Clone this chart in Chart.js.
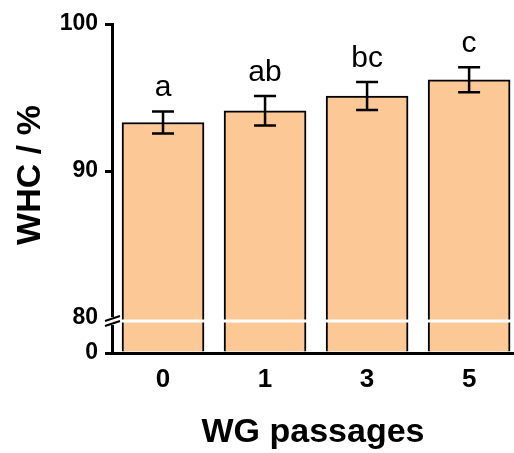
<!DOCTYPE html>
<html>
<head>
<meta charset="utf-8">
<script src="https://cdn.jsdelivr.net/npm/chart.js@4/dist/chart.umd.min.js"></script>
<style>
html, body { margin: 0; padding: 0; background: #fff; overflow: hidden; }
</style>
</head>
<body>
<canvas id="whcChart" width="514" height="453"></canvas>
<script>
// WG passages vs water holding capacity
var passages = ['0', '1', '3', '5'];
var whc = [93.3, 94.1, 95.1, 96.2];
var whcErr = [0.75, 1.0, 0.95, 0.85];
var letters = ['a', 'ab', 'bc', 'c'];
var yTickValues = [80, 90, 100];
var yZero = 77.62; // value where the "0" tick sits below the axis break

var FONT = '"Liberation Sans", Arial, sans-serif';
var barFill = 'rgb(252,200,150)';

var extras = {
	id: 'extras',
	afterDatasetsDraw: function(chart) {
		var ctx = chart.ctx;
		var xs = chart.scales.x, ys = chart.scales.y;
		var area = chart.chartArea;
		ctx.save();
		// error bars + letters
		ctx.strokeStyle = '#000';
		ctx.lineWidth = 2.5;
		ctx.fillStyle = '#000';
		ctx.font = '30px ' + FONT;
		ctx.textAlign = 'center';
		ctx.textBaseline = 'alphabetic';
		for (var i = 0; i < whc.length; i++) {
			var x = xs.getPixelForValue(i);
			var top = ys.getPixelForValue(whc[i] + whcErr[i]);
			var bot = ys.getPixelForValue(whc[i] - whcErr[i]);
			ctx.beginPath();
			ctx.moveTo(x, top); ctx.lineTo(x, bot);
			ctx.moveTo(x - 11, top); ctx.lineTo(x + 11, top);
			ctx.moveTo(x - 11, bot); ctx.lineTo(x + 11, bot);
			ctx.stroke();
			ctx.fillText(letters[i], x, top - 15);
		}
		// axis break
		var by = ys.getPixelForValue(80) + 3;
		ctx.fillStyle = '#fff';
		ctx.fillRect(area.left + 3, by - 1.5, area.right - area.left, 3);
		ctx.fillRect(area.left - 4, by - 4, 8, 8);
		ctx.strokeStyle = '#000';
		ctx.lineWidth = 2;
		ctx.beginPath();
		ctx.moveTo(area.left - 7, by + 0); ctx.lineTo(area.left + 8, by - 5);
		ctx.moveTo(area.left - 7, by + 5); ctx.lineTo(area.left + 8, by);
		ctx.stroke();
		ctx.restore();
	},
	afterDraw: function(chart) {
		var ctx = chart.ctx;
		ctx.save();
		ctx.fillStyle = '#000';
		ctx.font = 'bold 34px ' + FONT;
		ctx.textAlign = 'center';
		ctx.textBaseline = 'middle';
		ctx.translate(31, 175);
		ctx.rotate(-Math.PI / 2);
		ctx.fillText('WHC / %', 0, 0);
		ctx.restore();
	}
};

new Chart(document.getElementById('whcChart'), {
	type: 'bar',
	data: {
		datasets: [{
			label: 'WHC',
			data: whc.map(function(v, i) { return {x: i, y: v}; }),
			backgroundColor: barFill,
			borderColor: '#000',
			borderWidth: 2,
			barThickness: 82,
			base: yZero
		}]
	},
	options: {
		responsive: false,
		animation: false,
		devicePixelRatio: 1,
		layout: { padding: { top: 24, left: 0, right: 0, bottom: 0 } },
		plugins: {
			legend: { display: false },
			tooltip: { enabled: false }
		},
		scales: {
			x: {
				type: 'linear',
				min: -0.5,
				max: 3.44,
				offset: false,
				afterBuildTicks: function(s) {
					s.ticks = passages.map(function(p, i) { return {value: i}; });
				},
				afterFit: function(s) { s.height = 100; },
				ticks: {
					callback: function(v) { return passages[v]; },
					color: '#000',
					font: { family: FONT, size: 26, weight: 'bold' },
					padding: 11,
					maxRotation: 0
				},
				grid: { display: false, drawTicks: false, offset: false },
				border: { display: true, color: '#000', width: 3 },
				title: {
					display: true,
					text: 'WG passages',
					color: '#000',
					font: { family: FONT, size: 34, weight: 'bold' },
					padding: { top: 0, bottom: 0 }
				}
			},
			y: {
				min: yZero,
				max: 100,
				afterBuildTicks: function(s) {
					s.ticks = [{value: yZero}].concat(yTickValues.map(function(v) { return {value: v}; }));
				},
				afterFit: function(s) { s.width = 112; },
				ticks: {
					callback: function(v) { return v < 79 ? '0' : v; },
					color: '#000',
					font: { family: FONT, size: 23, weight: 'bold' },
					padding: 7
				},
				grid: {
					drawOnChartArea: false,
					drawTicks: true,
					tickLength: 7,
					lineWidth: 3,
					color: function(c) { return c.tick && c.tick.value === 80 ? 'rgba(0,0,0,0)' : '#000'; }
				},
				border: { display: true, color: '#000', width: 3 }
			}
		}
	},
	plugins: [extras]
});
</script>
</body>
</html>
